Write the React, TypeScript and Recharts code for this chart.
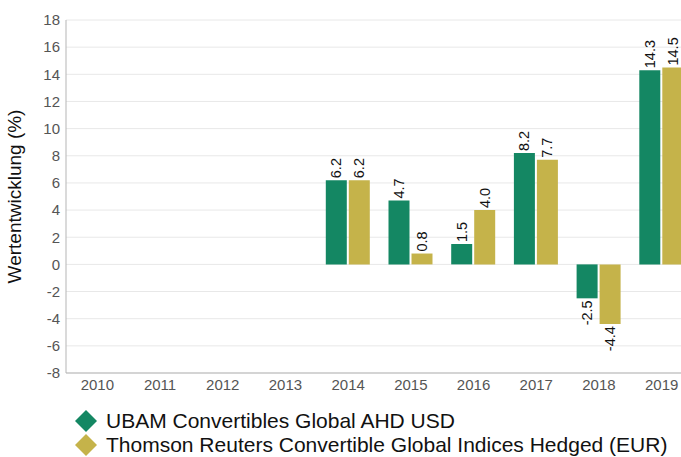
import React from 'react';
import { BarChart, Bar, XAxis, YAxis, CartesianGrid, Legend, LabelList } from 'recharts';

const years = ['2010', '2011', '2012', '2013', '2014', '2015', '2016', '2017', '2018', '2019'];
const ubam = [null, null, null, null, 6.2, 4.7, 1.5, 8.2, -2.5, 14.3];
const thomson = [null, null, null, null, 6.2, 0.8, 4.0, 7.7, -4.4, 14.5];
const yTicks = [-8, -6, -4, -2, 0, 2, 4, 6, 8, 10, 12, 14, 16, 18];

const seriesNames = ['UBAM Convertibles Global AHD USD', 'Thomson Reuters Convertible Global Indices Hedged (EUR)'];
const GREEN = '#148763';
const GOLD = '#c5b34a';

const data = years.map((year, i) => ({ year, ubam: ubam[i], thomson: thomson[i] }));

const FONT = '"Liberation Sans", Arial, sans-serif';

const BarValueLabel = (props: any) => {
  const { x, y, width, height, value } = props;
  if (value === null || value === undefined) return null;
  const cx = x + width / 2 + 5;
  const top = Math.min(y, y + height);
  const bottom = Math.max(y, y + height);
  const neg = value < 0;
  const ay = neg ? bottom + 2 : top - 2;
  return (
    <text
      x={cx}
      y={ay}
      transform={`rotate(-90, ${cx}, ${ay})`}
      textAnchor={neg ? 'end' : 'start'}
      fontSize={14.5}
      fontFamily={FONT}
      fill="#111"
    >
      {Number(value).toFixed(1)}
    </text>
  );
};

const LegendContent = () => {
  const colors = [GREEN, GOLD];
  return (
    <div style={{ paddingLeft: 74, paddingTop: 6, fontFamily: FONT }}>
      {seriesNames.map((name, i) => (
        <div key={name} style={{ display: 'flex', alignItems: 'center', height: 24 }}>
          <svg width={24} height={24} style={{ marginRight: 8 }}>
            <polygon points="12,1 23,12 12,23 1,12" fill={colors[i]} />
          </svg>
          <span style={{ fontSize: 21, color: '#111', lineHeight: '24px' }}>{name}</span>
        </div>
      ))}
    </div>
  );
};

export default function App() {
  return (
    <div style={{ position: 'absolute', left: 0, top: 0, width: 681, height: 457, overflow: 'hidden', background: '#fff' }}>
      <BarChart
        width={693}
        height={457}
        data={data}
        margin={{ top: 20, right: 0, left: 0, bottom: 0 }}
        barSize={21}
        barGap={2}
      >
        <CartesianGrid vertical={false} stroke="#e8e8e8" />
        <XAxis
          dataKey="year"
          height={30}
          tickLine={false}
          tickSize={4}
          axisLine={{ stroke: '#b5b5b5' }}
          tick={{ fill: '#555', fontSize: 15, fontFamily: FONT }}
          interval={0}
        />
        <YAxis
          width={66}
          domain={[-8, 18]}
          ticks={yTicks}
          interval={0}
          tickLine={false}
          tickSize={4}
          axisLine={{ stroke: '#b5b5b5' }}
          tick={{ fill: '#555', fontSize: 15, fontFamily: FONT }}
          label={{
            value: 'Wertentwicklung (%)',
            angle: -90,
            position: 'insideLeft',
            offset: 14,
            style: { textAnchor: 'middle', fill: '#111', fontSize: 19, fontFamily: FONT },
          }}
        />
        <Legend verticalAlign="bottom" height={54} content={<LegendContent />} />
        <Bar dataKey="ubam" fill={GREEN} isAnimationActive={false}>
          <LabelList dataKey="ubam" content={<BarValueLabel />} />
        </Bar>
        <Bar dataKey="thomson" fill={GOLD} isAnimationActive={false}>
          <LabelList dataKey="thomson" content={<BarValueLabel />} />
        </Bar>
      </BarChart>
    </div>
  );
}
